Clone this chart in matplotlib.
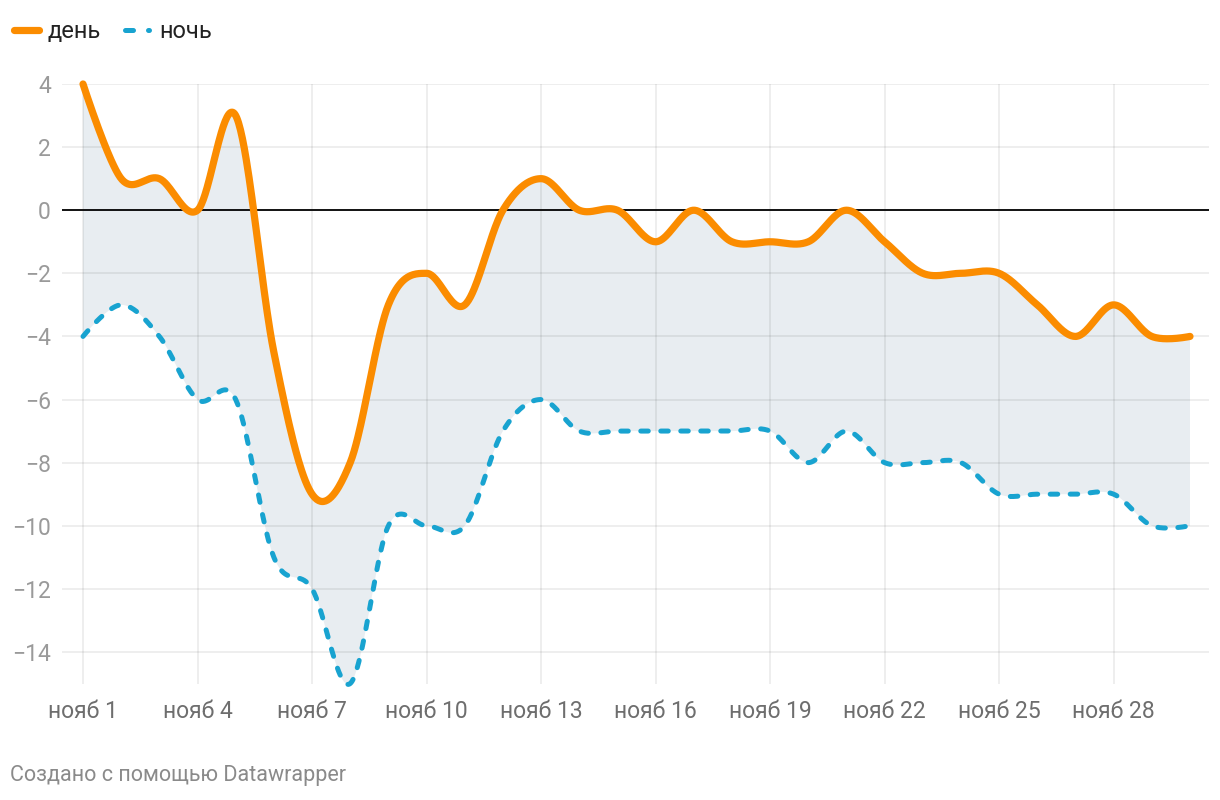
import numpy as np
import matplotlib
matplotlib.use("Agg")
import matplotlib.pyplot as plt
from matplotlib.lines import Line2D

plt.rcParams['font.family'] = ['Roboto', 'DejaVu Sans']

# ---- data ----
days = list(range(1, 31))
day_temp = [4, 1, 1, 0, 3, -4.5, -9, -8, -3, -2, -3, 0, 1, 0, 0, -1, 0, -1, -1, -1,
            0, -1, -2, -2, -2, -3, -4, -3, -4, -4]
night_temp = [-4, -3, -4, -6, -6, -11, -12, -15, -10, -10, -10, -7, -6, -7, -7, -7, -7, -7, -7, -8,
              -7, -8, -8, -8, -9, -9, -9, -9, -10, -10]
tick_days = [1, 4, 7, 10, 13, 16, 19, 22, 25, 28]
tick_labels = ["нояб %d" % d for d in tick_days]
y_ticks = [4, 2, 0, -2, -4, -6, -8, -10, -12, -14]
legend_labels = ["день", "ночь"]

DAY_COLOR = "#fb8c00"
NIGHT_COLOR = "#18a3d0"

W, H = 1220, 800
ax_left, ax_right, ax_top, ax_bottom = 62, 1209, 84, 683.5
px_per_day = (1113 - 83) / 27.0
x_lo = 1 - (83 - ax_left) / px_per_day
x_hi = 30 + (ax_right - 1190) / px_per_day
y_lo, y_hi = -15, 4
px_per_unit = (ax_bottom - ax_top) / (y_hi - y_lo)


def catmull_rom(xv, yv, alpha=0.0, n_per=40):
    """Catmull-Rom curve (as d3.curveCatmullRom.alpha(a)), computed in pixel space."""
    P = np.column_stack([(np.asarray(xv, float) - x_lo) * px_per_day,
                         (np.asarray(yv, float) - y_lo) * px_per_unit])
    n = len(P)
    out = [P[0:1]]
    t = np.linspace(0, 1, n_per + 1)[1:][:, None]
    for i in range(n - 1):
        p1, p2 = P[i], P[i + 1]
        p0 = P[i - 1] if i > 0 else None
        p3 = P[i + 2] if i + 2 < n else None
        l12 = np.sum((p2 - p1) ** 2) ** alpha
        l12_a = np.sqrt(l12)
        c1 = p1.copy()
        c2 = p2.copy()
        if p0 is not None:
            l01 = np.sum((p1 - p0) ** 2) ** alpha
            l01_a = np.sqrt(l01)
            a = 2 * l01 + 3 * l01_a * l12_a + l12
            nn = 3 * l01_a * (l01_a + l12_a)
            c1 = (p1 * a - p0 * l12 + p2 * l01) / nn
        if p3 is not None:
            l23 = np.sum((p3 - p2) ** 2) ** alpha
            l23_a = np.sqrt(l23)
            b = 2 * l23 + 3 * l23_a * l12_a + l12
            m = 3 * l23_a * (l23_a + l12_a)
            c2 = (p2 * b + p1 * l23 - p3 * l12) / m
        seg = ((1 - t) ** 3) * p1 + 3 * ((1 - t) ** 2) * t * c1 + 3 * (1 - t) * t ** 2 * c2 + t ** 3 * p2
        out.append(seg)
    pts = np.vstack(out)
    return pts[:, 0] / px_per_day + x_lo, pts[:, 1] / px_per_unit + y_lo


fig = plt.figure(figsize=(W / 100, H / 100), dpi=100)
ax = fig.add_axes([ax_left / W, 1 - ax_bottom / H, (ax_right - ax_left) / W, (ax_bottom - ax_top) / H])
ax.set_xlim(x_lo, x_hi)
ax.set_ylim(y_lo, y_hi)

xd, yd = catmull_rom(days, day_temp)
xn, yn = catmull_rom(days, night_temp)

ax.fill(np.concatenate([xd, xn[::-1]]), np.concatenate([yd, yn[::-1]]),
        color="#e8edf1", lw=0, zorder=1)

for t in tick_days:
    ax.axvline(t, color="black", alpha=0.08, lw=1.2, zorder=2)
for v in y_ticks:
    if v != 0:
        ax.axhline(v, color="black", alpha=0.08, lw=1.2, zorder=2)
ax.axhline(0, color="#111111", lw=1.4, zorder=3)

ax.plot(xn, yn, color=NIGHT_COLOR, lw=3.6, dashes=(1.5, 2.5), dash_capstyle="round",
        solid_capstyle="round", zorder=4, clip_on=False)
ax.plot(xd, yd, color=DAY_COLOR, lw=5.2, solid_capstyle="round", zorder=5, clip_on=False)

for s in ax.spines.values():
    s.set_visible(False)
ax.set_xticks(tick_days)
ax.set_xticklabels(tick_labels)
ax.set_yticks(y_ticks)
ax.set_yticklabels(["\u2212%d" % abs(v) if v < 0 else "%d" % v for v in y_ticks])
ax.tick_params(axis="x", length=0, pad=12, labelsize=16.5, labelcolor="#6e6e6e")
ax.tick_params(axis="y", length=0, pad=8, labelsize=16.5, labelcolor="#9a9a9a")


def fx(px):
    return px / W


def fy(py):
    return 1 - py / H


fig.add_artist(Line2D([fx(14), fx(39)], [fy(30), fy(30)], color=DAY_COLOR, lw=5.2,
                      solid_capstyle="round"))
fig.text(fx(47), fy(31), legend_labels[0], fontsize=17, color="#222222", va="center", ha="left")
fig.add_artist(Line2D([fx(125), fx(133)], [fy(30), fy(30)], color=NIGHT_COLOR, lw=3.6,
                      solid_capstyle="round"))
fig.add_artist(Line2D([fx(148), fx(149)], [fy(30), fy(30)], color=NIGHT_COLOR, lw=3.6,
                      solid_capstyle="round"))
fig.text(fx(159), fy(31), legend_labels[1], fontsize=17, color="#222222", va="center", ha="left")

fig.text(fx(10), fy(776), "Создано с помощью Datawrapper", fontsize=15.5, color="#8a8a8a",
         va="center", ha="left")

fig.savefig("out.png", dpi=100, facecolor="white")
